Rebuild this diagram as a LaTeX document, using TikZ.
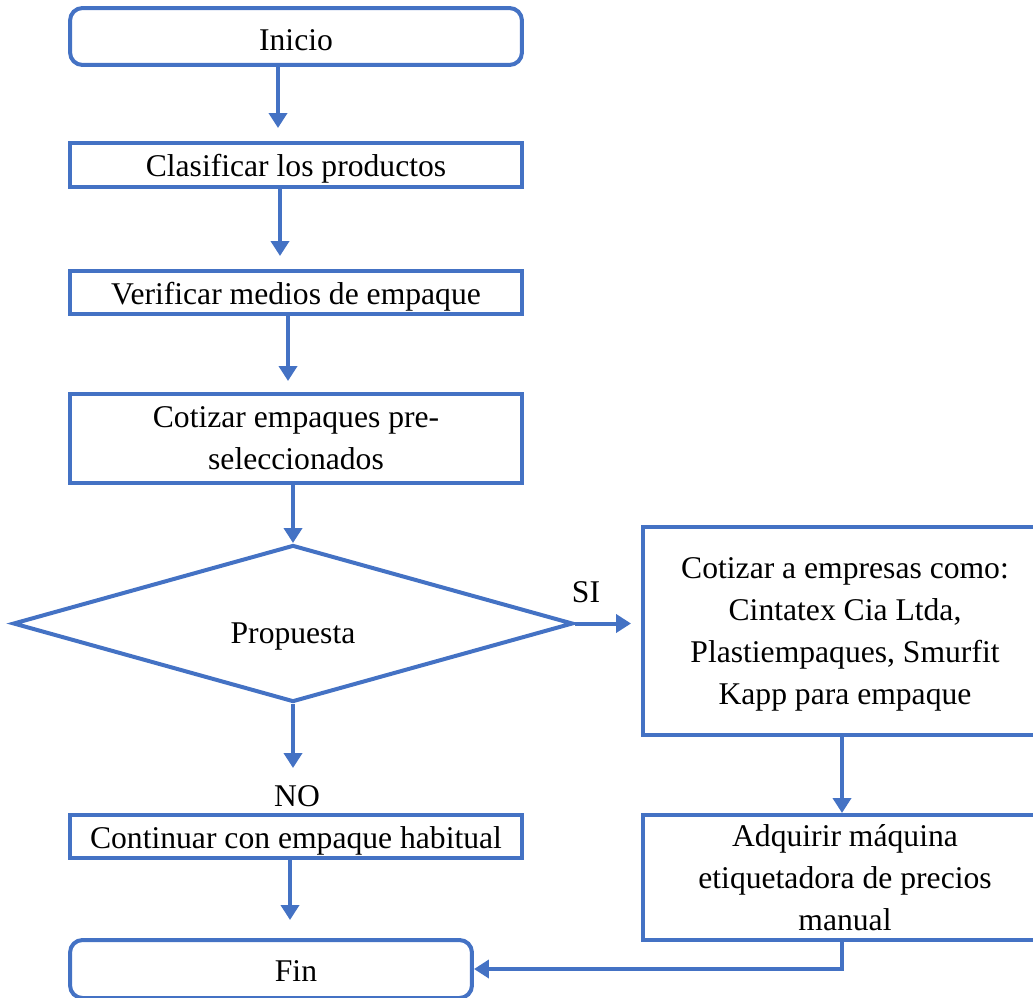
\documentclass[tikz,border=0pt]{standalone}
\usepackage{fontspec}
\setmainfont{Liberation Serif}
\usetikzlibrary{shapes.geometric,arrows.meta,positioning}

\definecolor{flowblue}{RGB}{68,114,196}
\def\flowfont{\fontsize{18}{24}\selectfont}

\begin{document}
\begin{tikzpicture}[
    x=0.02cm, y=-0.02cm,
    stepbox/.style={draw=flowblue, line width=0.08cm, inner sep=0pt, minimum width=9.04cm, align=center, font=\flowfont},
    oneline/.style={text height=0.6cm, text depth=0.12cm},
    endbox/.style={stepbox, oneline, rounded corners=0.25cm},
    sidebox/.style={stepbox, minimum width=8.08cm, text depth=0cm},
    decision/.style={diamond, aspect=3.5, draw=flowblue, line width=0.08cm, inner sep=0pt, minimum width=11.2cm, minimum height=3.14cm, font=\flowfont, text height=0.9cm, text depth=0.1cm},
    flow/.style={draw=flowblue, line width=0.08cm, -{Triangle[length=0.3cm, width=0.36cm]}},
    branchlabel/.style={font=\flowfont, inner sep=0pt},
]

% Frame of the page
\useasboundingbox (0,0) rectangle (1033,997);
\clip (0,0) rectangle (1033,997);

% Main column
\node[endbox, minimum height=1.14cm, text height=0.7cm] (ini) at (296,36.5) {Inicio};
\node[stepbox, oneline, minimum height=0.88cm] (cla) at (296,165) {Clasificar los productos};
\node[stepbox, oneline, minimum height=0.86cm] (ver) at (296,292.5) {Verificar medios de empaque};
\node[stepbox, minimum height=1.78cm] (cot) at (296,438.5) {Cotizar empaques pre-\\seleccionados};
\node[decision] (dec) at (293,623.5) {Propuesta};
\node[stepbox, oneline, minimum height=0.86cm] (cont) at (296,836.5) {Continuar con empaque habitual};
\node[endbox, minimum width=8.04cm, minimum height=1.16cm] (fin) at (271,969) {\hspace*{1cm}Fin};

% Right column (SI branch)
\node[sidebox, minimum height=4.16cm] (side) at (845,631) {Cotizar a empresas como:\\Cintatex Cia Ltda,\\Plastiempaques, Smurfit\\Kapp para empaque};
\node[sidebox, minimum height=2.5cm] (adq) at (845,877.5) {Adquirir máquina\\etiquetadora de precios\\manual};

% Branch labels
\node[branchlabel] (si) at (586,592) {SI};
\node[branchlabel] (no) at (297,796) {NO};

% Connectors
\draw[flow, shorten >=0.26cm] ([xshift=-0.36cm]ini.south) -- ([xshift=-0.36cm]cla.north);
\draw[flow, shorten >=0.26cm] ([xshift=-0.32cm]cla.south) -- ([xshift=-0.32cm]ver.north);
\draw[flow, shorten >=0.22cm] ([xshift=-0.16cm]ver.south) -- ([xshift=-0.16cm]cot.north);
\draw[flow] (dec.north |- cot.south) -- (dec.north);
\draw[flow, shorten >=0.2cm] (dec.east) -- (dec.east -| side.west);
\draw[flow, shorten >=0.9cm] (dec.south) -- (dec.south |- cont.north);
\draw[flow] ([xshift=-0.06cm]side.south) -- ([xshift=-0.06cm]adq.north);
\draw[flow, shorten >=0.36cm] ([xshift=-0.12cm]cont.south) -- ([xshift=-0.12cm]cont.south |- fin.north);
\draw[flow] ([xshift=-0.06cm]adq.south) |- (fin.east);

\end{tikzpicture}
\end{document}
